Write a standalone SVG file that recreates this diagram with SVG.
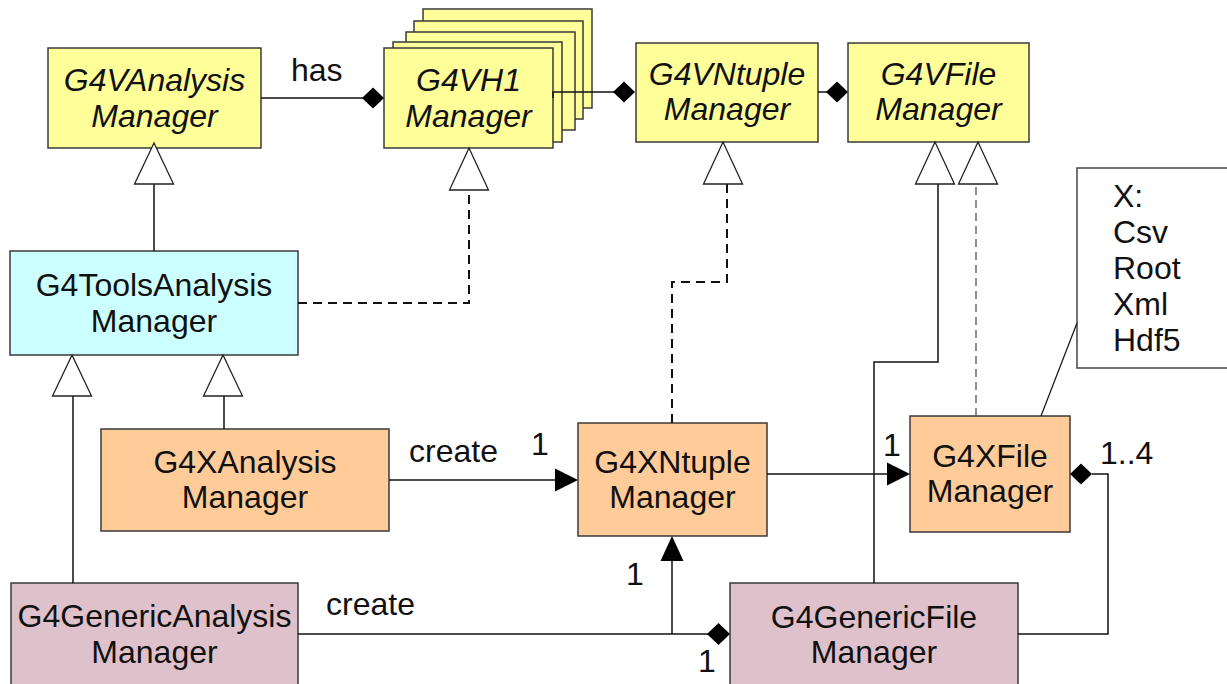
<svg xmlns="http://www.w3.org/2000/svg" width="1227" height="684" viewBox="0 0 1227 684">
  <style>
    text { font-family: "Liberation Sans", Arial, sans-serif; font-size: 32px; fill: #111; }
    .c { text-anchor: middle; }
    .i { font-style: italic; }
    .box { stroke: #3a3a3a; stroke-width: 1.5; }
    .abs { fill: #ffff99; }
    .tools { fill: #ccffff; }
    .impl { fill: #ffcc99; }
    .gen { fill: #dfc1cb; }
    .note { fill: #ffffff; stroke: #444; stroke-width: 1.5; }
    .ln { fill: none; stroke: #111; stroke-width: 1.5; }
    .dash { fill: none; stroke: #111; stroke-width: 2; stroke-dasharray: 9 6; }
    .dashthin { fill: none; stroke: #555; stroke-width: 1.3; stroke-dasharray: 8 5; }
    .tri { fill: #fff; stroke: #222; stroke-width: 1.3; }
    .solid { fill: #000; stroke: none; }
  </style>

  <!-- abstract interfaces -->
  <g id="G4VAnalysisManager">
    <rect class="box abs" x="48" y="48" width="213" height="100"/>
    <text class="c i" x="154.5" y="91">G4VAnalysis</text>
    <text class="c i" x="154.5" y="127">Manager</text>
  </g>

  <g id="G4VH1Manager">
    <rect class="box abs" x="423" y="9" width="169" height="99"/>
    <rect class="box abs" x="414" y="21" width="169" height="98"/>
    <rect class="box abs" x="406" y="32" width="169" height="98"/>
    <rect class="box abs" x="393" y="42" width="169" height="100"/>
    <rect class="box abs" x="384" y="48" width="169" height="100"/>
    <text class="c i" x="468.5" y="91">G4VH1</text>
    <text class="c i" x="468.5" y="127">Manager</text>
  </g>

  <g id="G4VNtupleManager">
    <rect class="box abs" x="636" y="43" width="182" height="99"/>
    <text class="c i" x="727" y="85">G4VNtuple</text>
    <text class="c i" x="727" y="120">Manager</text>
  </g>

  <g id="G4VFileManager">
    <rect class="box abs" x="848" y="43" width="181" height="99"/>
    <text class="c i" x="938.5" y="85">G4VFile</text>
    <text class="c i" x="938.5" y="120">Manager</text>
  </g>

  <!-- tools base -->
  <g id="G4ToolsAnalysisManager">
    <rect class="box tools" x="10" y="251" width="288" height="104"/>
    <text class="c" x="154" y="296">G4ToolsAnalysis</text>
    <text class="c" x="154" y="332">Manager</text>
  </g>

  <!-- per-format implementations -->
  <g id="G4XAnalysisManager">
    <rect class="box impl" x="101" y="429" width="288" height="102"/>
    <text class="c" x="245" y="473">G4XAnalysis</text>
    <text class="c" x="245" y="508">Manager</text>
  </g>

  <g id="G4XNtupleManager">
    <rect class="box impl" x="578" y="423" width="189" height="113"/>
    <text class="c" x="672.5" y="473">G4XNtuple</text>
    <text class="c" x="672.5" y="508">Manager</text>
  </g>

  <g id="G4XFileManager">
    <rect class="box impl" x="910" y="416" width="160" height="116"/>
    <text class="c" x="990" y="467">G4XFile</text>
    <text class="c" x="990" y="502">Manager</text>
  </g>

  <!-- generic managers -->
  <g id="G4GenericAnalysisManager">
    <rect class="box gen" x="11" y="583" width="287" height="110"/>
    <text class="c" x="154.5" y="627">G4GenericAnalysis</text>
    <text class="c" x="154.5" y="663">Manager</text>
  </g>

  <g id="G4GenericFileManager">
    <rect class="box gen" x="730" y="583" width="288" height="110"/>
    <text class="c" x="874" y="628">G4GenericFile</text>
    <text class="c" x="874" y="663">Manager</text>
  </g>

  <!-- output formats note -->
  <g id="formatsNote">
    <rect class="note" x="1077" y="168" width="170" height="200"/>
    <text x="1113" y="207">X:</text>
    <text x="1113" y="243">Csv</text>
    <text x="1113" y="279">Root</text>
    <text x="1113" y="315">Xml</text>
    <text x="1113" y="351">Hdf5</text>
  </g>

  <!-- connectors (drawn over the boxes) -->
  <g id="connectors">
    <!-- aggregation: analysis manager has H1 managers -->
    <line class="ln" x1="261" y1="98" x2="363" y2="98"/>
    <polygon class="solid" points="362,98 373,87.5 384,98 373,108.5"/>
    <text x="291" y="81">has</text>

    <!-- H1 managers to ntuple manager -->
    <path class="ln" d="M553,98 V92 H614"/>
    <polygon class="solid" points="613,92 624,81.5 635,92 624,102.5"/>

    <!-- ntuple manager to file manager -->
    <line class="ln" x1="818" y1="92" x2="827" y2="92"/>
    <polygon class="solid" points="826,92 837,81.5 848,92 837,102.5"/>

    <!-- G4ToolsAnalysisManager inherits G4VAnalysisManager -->
    <line class="ln" x1="154" y1="251" x2="154" y2="184"/>
    <polygon class="tri" points="154,143 134.5,184 173.5,184"/>

    <!-- G4ToolsAnalysisManager realizes G4VH1Manager -->
    <path class="dash" d="M298,303 H469 V190"/>
    <polygon class="tri" points="469,148 449.5,190 488.5,190"/>

    <!-- G4XNtupleManager realizes G4VNtupleManager -->
    <path class="dash" d="M672,423 V282 H727 V184"/>
    <polygon class="tri" points="723,142 703.5,184 742.5,184"/>

    <!-- G4GenericFileManager inherits G4VFileManager -->
    <path class="ln" d="M874,583 V362 H938 V184"/>
    <polygon class="tri" points="935,142 915.5,184 954.5,184"/>

    <!-- G4XFileManager realizes G4VFileManager -->
    <path class="dashthin" d="M976,416 V184"/>
    <polygon class="tri" points="978,142 958.5,184 997.5,184"/>

    <!-- G4GenericAnalysisManager inherits G4ToolsAnalysisManager -->
    <line class="ln" x1="73" y1="583" x2="73" y2="396"/>
    <polygon class="tri" points="72,355 52.5,396 91.5,396"/>

    <!-- G4XAnalysisManager inherits G4ToolsAnalysisManager -->
    <line class="ln" x1="224" y1="429" x2="224" y2="396"/>
    <polygon class="tri" points="223,355 203.5,396 242.5,396"/>

    <!-- G4XAnalysisManager creates G4XNtupleManager -->
    <line class="ln" x1="389" y1="480" x2="556" y2="480"/>
    <polygon class="solid" points="578,480 555,468.5 555,491.5"/>
    <text x="409" y="462">create</text>
    <text x="531" y="455">1</text>

    <!-- G4XNtupleManager uses G4XFileManager -->
    <line class="ln" x1="767" y1="474" x2="888" y2="474"/>
    <polygon class="solid" points="910,474 887,462.5 887,485.5"/>
    <text x="883" y="456">1</text>

    <!-- G4GenericFileManager owns G4XFileManager -->
    <polygon class="solid" points="1070,474 1081,463.5 1092,474 1081,484.5"/>
    <path class="ln" d="M1092,474 H1108 V634 H1018"/>
    <text x="1100" y="464">1..4</text>

    <!-- G4GenericAnalysisManager creates G4GenericFileManager and G4XNtupleManager -->
    <line class="ln" x1="298" y1="634" x2="708" y2="634"/>
    <polygon class="solid" points="707,634 718.5,623 730,634 718.5,645"/>
    <text x="326" y="615">create</text>
    <text x="698" y="672">1</text>
    <line class="ln" x1="672" y1="634" x2="672" y2="560"/>
    <polygon class="solid" points="672,536 660.5,561 683.5,561"/>
    <text x="626" y="585">1</text>

    <!-- note anchor -->
    <line class="ln" style="stroke-width:1.2" x1="1077" y1="323" x2="1041" y2="416"/>
  </g>
</svg>
